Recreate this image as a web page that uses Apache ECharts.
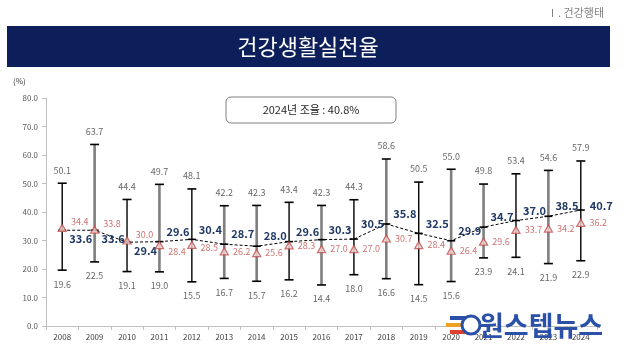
<!DOCTYPE html>
<html>
<head>
<meta charset="utf-8">
<script src="https://cdn.jsdelivr.net/npm/echarts@6.0.0/dist/echarts.min.js"></script>
<style>
  html, body { margin: 0; padding: 0; background: #fff; }
  #chart { width: 630px; height: 353px; }
</style>
</head>
<body>
<div id="chart"></div>
<script>
// 건강생활실천율 (%) 2008-2024
var years = ['2008', '2009', '2010', '2011', '2012', '2013', '2014', '2015', '2016',
  '2017', '2018', '2019', '2020', '2021', '2022', '2023', '2024'];
var maxVals = [50.1, 63.7, 44.4, 49.7, 48.1, 42.2, 42.3, 43.4, 42.3, 44.3, 58.6, 50.5, 55.0, 49.8, 53.4, 54.6, 57.9];
var minVals = [19.6, 22.5, 19.1, 19.0, 15.5, 16.7, 15.7, 16.2, 14.4, 18.0, 16.6, 14.5, 15.6, 23.9, 24.1, 21.9, 22.9];
var meanVals = [33.6, 33.6, 29.4, 29.6, 30.4, 28.7, 28.0, 29.6, 30.3, 30.5, 35.8, 32.5, 29.9, 34.7, 37.0, 38.5, 40.7];
var redVals = [34.4, 33.8, 30.0, 28.4, 28.5, 26.2, 25.6, 28.3, 27.0, 27.0, 30.7, 28.4, 26.4, 29.6, 33.7, 34.2, 36.2];
var yTicks = [0, 10, 20, 30, 40, 50, 60, 70, 80];

// 회색 막대 연도
var grayYears = ['2009', '2011', '2013', '2014', '2016', '2018', '2020', '2021', '2023'];

// 라벨 위치 보정
var meanOffset = { 0: [0, 9], 1: [0, 9], 2: [0, 9], 9: [0, -15], 16: [2, -4] };
var redOffset = { 0: [0, -6], 1: [0, -6], 2: [0, -6], 3: [0, 7], 4: [0, 3] };

var FONT = '"Noto Sans CJK KR", "Noto Sans", sans-serif';
var chart = echarts.init(document.getElementById('chart'));

var meanData = meanVals.map(function (v, i) {
  return { value: v, label: { offset: meanOffset[i] || [0, -10] } };
});
var redData = redVals.map(function (v, i) {
  return { value: v, label: { offset: redOffset[i] || [0, 0] } };
});

var option = {
  backgroundColor: '#fff',
  animation: false,
  grid: { left: 46, right: 33, top: 98, bottom: 27 },
  xAxis: {
    type: 'category',
    data: years,
    boundaryGap: true,
    axisLine: { lineStyle: { color: '#bfbfbf', width: 1 } },
    axisTick: { show: true, length: 4, lineStyle: { color: '#bfbfbf' } },
    axisLabel: { color: '#404040', fontSize: 8, fontFamily: FONT, margin: 7 }
  },
  yAxis: {
    type: 'value',
    min: yTicks[0],
    max: yTicks[yTicks.length - 1],
    interval: 10,
    splitLine: { show: false },
    axisLine: { show: true, lineStyle: { color: '#bfbfbf', width: 1 } },
    axisTick: { show: true, length: 4, lineStyle: { color: '#bfbfbf' } },
    axisLabel: {
      color: '#595959', fontSize: 8, fontFamily: FONT, margin: 8,
      formatter: function (v) { return v.toFixed(1); }
    }
  },
  series: [
    {
      // 최대-최소 범위
      type: 'custom',
      data: years.map(function (y, i) { return [i, minVals[i], maxVals[i]]; }),
      encode: { x: 0, y: [1, 2] },
      z: 2,
      renderItem: function (params, api) {
        var lo = api.coord([api.value(0), api.value(1)]);
        var hi = api.coord([api.value(0), api.value(2)]);
        var x = lo[0];
        var gray = grayYears.indexOf(years[params.dataIndex]) >= 0;
        var cap = 4.5;
        return {
          type: 'group',
          children: [
            { type: 'line', shape: { x1: x, y1: hi[1], x2: x, y2: lo[1] },
              style: { stroke: gray ? '#7f7f7f' : '#000', lineWidth: gray ? 2.6 : 1.4 } },
            { type: 'line', shape: { x1: x - cap, y1: hi[1], x2: x + cap, y2: hi[1] },
              style: { stroke: '#000', lineWidth: 1.6 } },
            { type: 'line', shape: { x1: x - cap, y1: lo[1], x2: x + cap, y2: lo[1] },
              style: { stroke: '#000', lineWidth: 1.6 } }
          ]
        };
      }
    },
    {
      // 최대값 라벨
      type: 'scatter',
      data: maxVals,
      symbolSize: 1,
      itemStyle: { color: 'rgba(0,0,0,0)' },
      z: 3,
      label: {
        show: true, position: 'top', distance: 8,
        color: '#404040', fontSize: 9, fontFamily: FONT,
        formatter: function (p) { return p.value.toFixed(1); }
      }
    },
    {
      // 최소값 라벨
      type: 'scatter',
      data: minVals,
      symbolSize: 1,
      itemStyle: { color: 'rgba(0,0,0,0)' },
      z: 3,
      label: {
        show: true, position: 'bottom', distance: 9,
        color: '#404040', fontSize: 9, fontFamily: FONT,
        formatter: function (p) { return p.value.toFixed(1); }
      }
    },
    {
      // 평균
      type: 'line',
      data: meanData,
      symbol: 'rect',
      symbolSize: [8, 1.6],
      itemStyle: { color: '#000' },
      lineStyle: { color: '#000', width: 1, type: [3, 2] },
      z: 4,
      label: {
        show: true, position: 'right', distance: 3,
        color: '#1f3864', fontSize: 11, fontWeight: 'bold', fontFamily: FONT,
        formatter: function (p) { return p.value.toFixed(1); }
      }
    },
    {
      // 삼각형 계열
      type: 'scatter',
      data: redData,
      symbol: 'triangle',
      symbolSize: [8, 7],
      itemStyle: { color: '#f6dada', borderColor: '#c0504d', borderWidth: 1.3 },
      z: 5,
      label: {
        show: true, position: 'right', distance: 4,
        color: '#c0504d', fontSize: 9, fontFamily: FONT,
        formatter: function (p) { return p.value.toFixed(1); }
      }
    }
  ],
  graphic: [
    {
      type: 'text', right: 26, top: 7,
      style: { text: 'Ⅰ. 건강행태', fill: '#808080', font: '11px ' + FONT }
    },
    {
      type: 'rect', shape: { x: 7, y: 26, width: 603, height: 41 },
      style: { fill: '#0c1f5a' }
    },
    {
      type: 'text', x: 308, y: 47,
      style: { text: '건강생활실천율', fill: '#fff', font: '22px ' + FONT, align: 'center', verticalAlign: 'middle' }
    },
    {
      type: 'text', x: 13, y: 81,
      style: { text: '(%)', fill: '#404040', font: '8px ' + FONT, verticalAlign: 'middle' }
    },
    {
      type: 'rect', shape: { x: 226, y: 97, width: 170, height: 26, r: 5 },
      style: { fill: '#fff', stroke: '#808080', lineWidth: 1 }
    },
    {
      type: 'text', x: 311, y: 110,
      style: { text: '2024년 조율 : 40.8%', fill: '#262626', font: '11px ' + FONT, align: 'center', verticalAlign: 'middle' }
    },
    // 워터마크
    { type: 'rect', shape: { x: 450, y: 316, width: 18, height: 4 }, style: { fill: '#2b50a8' }, z: 100 },
    { type: 'rect', shape: { x: 446, y: 323, width: 20, height: 4 }, style: { fill: '#f0a020' }, z: 100 },
    { type: 'rect', shape: { x: 450, y: 330, width: 18, height: 4 }, style: { fill: '#e04030' }, z: 100 },
    { type: 'circle', shape: { cx: 471, cy: 325, r: 9 }, style: { fill: '#fff', stroke: '#2b50a8', lineWidth: 3 }, z: 100 },
    {
      type: 'text', x: 479, y: 326, z: 100,
      style: { text: '원스텝뉴스', fill: '#2b50a8', font: 'bold 27px ' + FONT, verticalAlign: 'middle' }
    }
  ]
};

chart.setOption(option);
</script>
</body>
</html>
